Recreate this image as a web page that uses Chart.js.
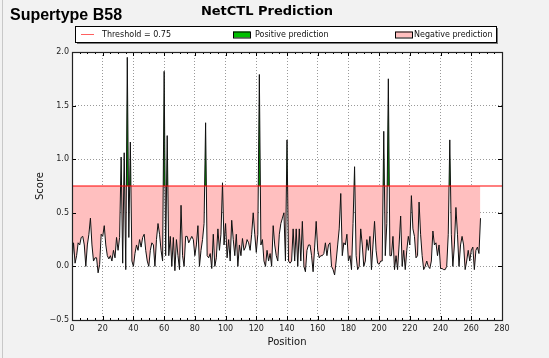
<!DOCTYPE html>
<html>
<head>
<meta charset="utf-8">
<script src="https://cdn.jsdelivr.net/npm/chart.js@4.4.1/dist/chart.umd.min.js"></script>
<style>
  body { margin: 0; background: #f2f2f2; }
  canvas { display: block; }
</style>
</head>
<body>
<canvas id="chart" width="549" height="358"></canvas>
<script>
// dados (score por posição, a partir da posição 0)
const firstPosition = 0;
const scores = [
  0.05, 0.22, 0.03, 0.10, 0.22, 0.20, 0.27, 0.28, 0.20, 0.00,
  0.20, 0.30, 0.45, 0.20, 0.05, 0.08, 0.08, -0.06, 0.02, 0.30,
  0.28, 0.38, 0.20, 0.10, 0.07, 0.10, 0.05, 0.15, 0.08, 0.27,
  0.15, 0.27, 1.02, 0.03, 1.06, -0.03, 1.95, 0.27, 1.16, 0.05,
  0.00, 0.12, 0.20, 0.15, 0.25, 0.18, 0.27, 0.30, 0.15, 0.05,
  0.00, 0.15, 0.22, 0.20, 0.00, 0.25, 0.40, 0.30, 0.15, 0.05,
  1.82, 0.10, 1.22, 0.10, 0.28, 0.00, 0.27, -0.04, 0.25, 0.10,
  -0.03, 0.57, 0.10, 0.00, 0.28, 0.28, 0.22, 0.25, 0.28, 0.25,
  0.10, 0.20, 0.38, 0.00, 0.15, 0.25, 0.40, 1.34, 0.10, 0.08,
  0.12, -0.02, 0.30, 0.00, 0.08, 0.35, 0.15, 0.30, 0.78, 0.20,
  0.40, 0.08, 0.25, 0.05, 0.43, 0.25, 0.10, 0.30, 0.00, 0.20,
  0.10, 0.26, 0.15, 0.18, 0.25, 0.22, 0.15, 0.30, 0.50, 0.30,
  0.13, 0.30, 1.79, 0.20, 0.25, 0.05, 0.00, 0.15, 0.05, 0.12,
  0.00, 0.38, 0.20, 0.10, 0.05, 0.30, 0.40, 0.45, 0.50, 0.05,
  1.18, 0.05, 0.03, 0.05, 0.35, 0.05, 0.35, 0.00, 0.35, 0.05,
  0.42, 0.00, -0.05, 0.15, 0.20, 0.20, 0.10, -0.05, 0.18, 0.42,
  0.15, 0.08, 0.10, 0.10, 0.12, 0.22, 0.10, 0.20, 0.22, 0.00,
  -0.03, -0.08, 0.05, 0.20, 0.35, 0.68, 0.10, 0.22, 0.20, 0.30,
  0.05, 0.10, -0.03, 0.40, 0.93, 0.10, -0.03, 0.00, 0.35, 0.20,
  0.00, 0.05, 0.25, 0.15, 0.28, -0.03, 0.20, 0.42, 0.15, 0.03,
  0.02, 0.05, 0.05, 1.26, 0.10, 0.40, 1.75, 0.10, 0.10, 0.28,
  -0.03, 0.10, -0.03, 0.20, 0.47, 0.00, 0.15, -0.03, 0.15, 0.28,
  0.20, 0.66, 0.35, 0.28, 0.08, 0.10, 0.60, 0.30, 0.10, -0.03,
  0.00, 0.05, 0.00, -0.02, 0.05, 0.33, 0.20, 0.22, 0.10, 0.20,
  -0.02, -0.02, -0.03, -0.03, 0.00, 0.30, 1.18, 0.30, 0.00, 0.20,
  0.55, 0.30, 0.00, 0.20, 0.28, 0.20, -0.03, 0.05, 0.15, 0.05,
  0.15, 0.18, -0.03, 0.15, 0.18, 0.12, 0.45
];
const threshold = 0.75;
const thresholdSpan = [0, 280];
const xTicks = [0, 20, 40, 60, 80, 100, 120, 140, 160, 180, 200, 220, 240, 260, 280];
const yTicks = [-0.5, 0.0, 0.5, 1.0, 1.5, 2.0];
const legendLabels = ['Threshold = 0.75', 'Positive prediction', 'Negative prediction'];
const chartTitle = 'NetCTL Prediction';
const supertype = 'Supertype B58';

const positiveColor = '#00a000';
const negativeColor = '#ffbfbf';
const tickFont = { family: 'DejaVu Sans', size: 8 };

// desenha fundo, moldura, marcas internas, títulos e legenda
const decorPlugin = {
  id: 'decor',
  beforeDraw(chart) {
    const { ctx, chartArea: a } = chart;
    ctx.save();
    ctx.fillStyle = '#f2f2f2';
    ctx.fillRect(0, 0, chart.width, chart.height);
    ctx.fillStyle = '#ffffff';
    ctx.fillRect(a.left, a.top, a.right - a.left, a.bottom - a.top);
    ctx.strokeStyle = '#c8c8c8';
    ctx.beginPath();
    ctx.moveTo(2.5, 0);
    ctx.lineTo(2.5, chart.height);
    ctx.stroke();
    ctx.restore();
  },
  afterDraw(chart) {
    const { ctx, chartArea: a } = chart;
    const xs = chart.scales.x, ys = chart.scales.y;
    ctx.save();
    // marcas para dentro nos quatro lados
    ctx.strokeStyle = '#000';
    ctx.lineWidth = 1;
    ctx.beginPath();
    for (let v = 0; v <= 280; v += 5) {
      const px = Math.round(xs.getPixelForValue(v)) + 0.5;
      const len = v % 20 === 0 ? 4 : 2;
      ctx.moveTo(px, a.bottom); ctx.lineTo(px, a.bottom - len);
      ctx.moveTo(px, a.top); ctx.lineTo(px, a.top + len);
    }
    yTicks.forEach(v => {
      const py = Math.round(ys.getPixelForValue(v)) + 0.5;
      ctx.moveTo(a.left, py); ctx.lineTo(a.left + 4, py);
      ctx.moveTo(a.right, py); ctx.lineTo(a.right - 4, py);
    });
    ctx.stroke();
    ctx.lineWidth = 1.2;
    ctx.strokeStyle = '#222';
    ctx.strokeRect(Math.round(a.left) + 0.5, Math.round(a.top) + 0.5,
      Math.round(a.right - a.left), Math.round(a.bottom - a.top));

    // títulos
    ctx.fillStyle = '#000';
    ctx.textBaseline = 'alphabetic';
    ctx.textAlign = 'left';
    ctx.font = 'bold 16px "Liberation Sans", Arial, sans-serif';
    ctx.fillText(supertype, 10, 20);
    ctx.textAlign = 'center';
    ctx.font = 'bold 13px "DejaVu Sans", sans-serif';
    ctx.fillText(chartTitle, 267, 15);

    // legenda
    const bx = 75, by = 26, bw = 421, bh = 16;
    ctx.fillStyle = '#7a7a7a';
    ctx.fillRect(bx + 2, by + 2, bw, bh);
    ctx.fillStyle = '#fff';
    ctx.fillRect(bx, by, bw, bh);
    ctx.strokeStyle = '#000';
    ctx.lineWidth = 1;
    ctx.strokeRect(bx + 0.5, by + 0.5, bw, bh);
    const cols = [81, 233, 395];
    const cy = by + bh / 2 + 0.5;
    ctx.font = '8px "DejaVu Sans", sans-serif';
    ctx.textAlign = 'left';
    ctx.textBaseline = 'middle';
    // linha do limiar
    ctx.strokeStyle = '#ff6060';
    ctx.lineWidth = 1;
    ctx.beginPath();
    ctx.moveTo(cols[0], cy); ctx.lineTo(cols[0] + 13, cy);
    ctx.stroke();
    // caixas coloridas
    [[cols[1], '#00c000'], [cols[2], negativeColor]].forEach(([x, c]) => {
      ctx.fillStyle = c;
      ctx.fillRect(x, cy - 3, 17, 6);
      ctx.strokeStyle = '#000';
      ctx.strokeRect(x + 0.5, cy - 3 + 0.5, 17, 6);
    });
    ctx.fillStyle = '#111';
    ctx.fillText(legendLabels[0], cols[0] + 21, cy);
    ctx.fillText(legendLabels[1], cols[1] + 22, cy);
    ctx.fillText(legendLabels[2], cols[2] + 19, cy);
    ctx.restore();
  }
};

const scoreData = scores.map((s, i) => ({ x: firstPosition + i, y: s }));
const thresholdData = thresholdSpan.map(x => ({ x: x, y: threshold }));

new Chart(document.getElementById('chart'), {
  type: 'line',
  data: {
    datasets: [
      {
        label: 'Threshold',
        data: thresholdData,
        borderColor: '#ff0000',
        borderWidth: 1.1,
        pointRadius: 0,
        fill: false,
        order: 1
      },
      {
        label: 'Score',
        data: scoreData,
        borderColor: '#111111',
        borderWidth: 1,
        pointRadius: 0,
        tension: 0,
        fill: { target: { value: threshold }, above: positiveColor, below: negativeColor },
        order: 2
      }
    ]
  },
  options: {
    responsive: false,
    animation: false,
    events: [],
    layout: { padding: { left: 0, right: 47, top: 52, bottom: 0 } },
    plugins: {
      legend: { display: false },
      title: { display: false },
      tooltip: { enabled: false }
    },
    scales: {
      x: {
        type: 'linear',
        min: 0,
        max: 280,
        afterBuildTicks: (scale) => { scale.ticks = xTicks.map(v => ({ value: v })); },
        afterFit: (scale) => { scale.height = 38; },
        grid: { color: 'rgba(0,0,0,0.5)', lineWidth: 0.8, drawTicks: false },
        border: { display: false, dash: [1, 2] },
        ticks: { font: tickFont, color: '#222', padding: 4, maxRotation: 0 },
        title: { display: true, text: 'Position', font: { family: 'DejaVu Sans', size: 10 }, color: '#111', padding: { bottom: 10 } }
      },
      y: {
        min: -0.5,
        max: 2.0,
        afterBuildTicks: (scale) => { scale.ticks = yTicks.map(v => ({ value: v })); },
        afterFit: (scale) => { scale.width = 72; },
        grid: { color: 'rgba(0,0,0,0.5)', lineWidth: 0.8, drawTicks: false },
        border: { display: false, dash: [1, 2] },
        ticks: {
          font: tickFont,
          color: '#222',
          padding: 3,
          callback: (v) => (v < 0 ? '\u2212' + Math.abs(v).toFixed(1) : v.toFixed(1))
        },
        title: { display: true, text: 'Score', font: { family: 'DejaVu Sans', size: 10 }, color: '#111', padding: { top: 34 } }
      }
    }
  },
  plugins: [decorPlugin]
});
</script>
</body>
</html>
